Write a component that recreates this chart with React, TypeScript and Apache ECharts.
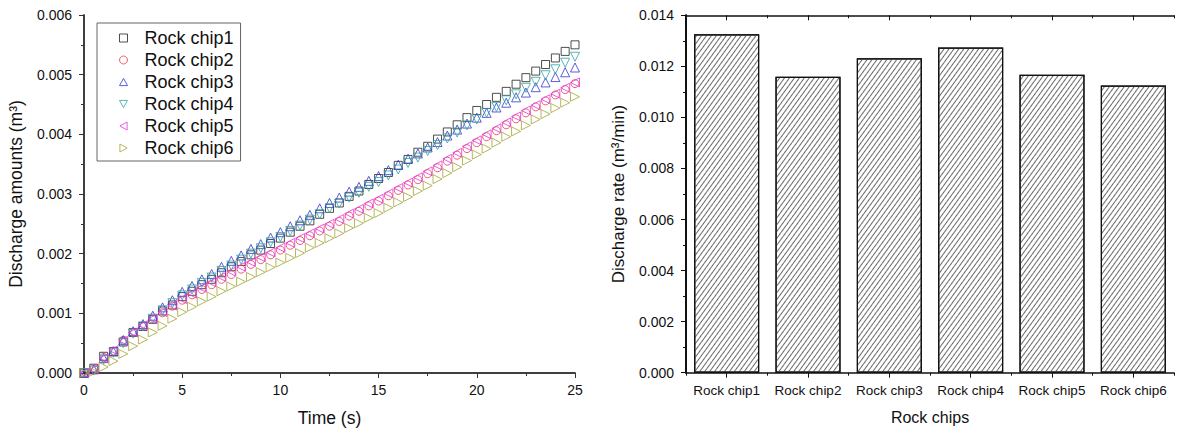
import React, { useEffect, useRef } from "react";
import * as echarts from "echarts";

const times = [
  0, 0.5, 1, 1.5, 2, 2.5, 3, 3.5, 4, 4.5, 5, 5.5, 6, 6.5, 7, 7.5, 8, 8.5, 9, 9.5,
  10, 10.5, 11, 11.5, 12, 12.5, 13, 13.5, 14, 14.5, 15, 15.5, 16, 16.5, 17, 17.5,
  18, 18.5, 19, 19.5, 20, 20.5, 21, 21.5, 22, 22.5, 23, 23.5, 24, 24.5, 25,
];

const chip1 = [
  0.0, 0.00008, 0.00028, 0.00036, 0.00052, 0.00068, 0.00078, 0.0009, 0.00104, 0.00114,
  0.00128, 0.00137, 0.00148, 0.00157, 0.00168, 0.00178, 0.00187, 0.00198, 0.00206, 0.00217,
  0.00226, 0.00236, 0.00246, 0.00255, 0.00266, 0.00276, 0.00285, 0.00296, 0.00305, 0.00316,
  0.00326, 0.00336, 0.00348, 0.00358, 0.0037, 0.0038, 0.00392, 0.00404, 0.00416, 0.00428,
  0.0044, 0.0045, 0.00462, 0.00472, 0.00484, 0.00495, 0.00506, 0.00517, 0.00528, 0.00539,
  0.0055,
];
const chip2 = [
  0.0, 0.00007, 0.00026, 0.00037, 0.00055, 0.00068, 0.00079, 0.0009, 0.00101, 0.00112,
  0.00122, 0.00131, 0.0014, 0.00148, 0.00157, 0.00165, 0.00174, 0.00182, 0.0019, 0.00198,
  0.00206, 0.00214, 0.00222, 0.0023, 0.00238, 0.00246, 0.00254, 0.00263, 0.00271, 0.0028,
  0.00288, 0.00297, 0.00306, 0.00315, 0.00324, 0.00334, 0.00344, 0.00355, 0.00365, 0.00376,
  0.00386, 0.00396, 0.00406, 0.00416, 0.00426, 0.00436, 0.00446, 0.00456, 0.00466, 0.00475,
  0.00485,
];
const chip3 = [
  0.0, 0.00006, 0.00025, 0.00036, 0.00055, 0.0007, 0.00082, 0.00096, 0.0011, 0.00122,
  0.00136, 0.00146, 0.00157, 0.00166, 0.00178, 0.00188, 0.00197, 0.00208, 0.00216, 0.00227,
  0.00236, 0.00246, 0.00256, 0.00265, 0.00276, 0.00285, 0.00294, 0.00304, 0.00312, 0.00322,
  0.0033, 0.0034, 0.00349, 0.00359, 0.00368, 0.00378, 0.00387, 0.00398, 0.00408, 0.00418,
  0.00428, 0.00436, 0.00445, 0.00453, 0.00462, 0.0047, 0.00479, 0.00487, 0.00496, 0.00504,
  0.00512,
];
const chip4 = [
  0.0, 0.00004, 0.00022, 0.00034, 0.0005, 0.00066, 0.00078, 0.00091, 0.00105, 0.00117,
  0.0013, 0.0014, 0.00151, 0.0016, 0.00171, 0.0018, 0.0019, 0.002, 0.00209, 0.00219,
  0.00228, 0.00238, 0.00247, 0.00257, 0.00266, 0.00276, 0.00284, 0.00294, 0.00302, 0.00312,
  0.0032, 0.00331, 0.00341, 0.00352, 0.00361, 0.00372, 0.00382, 0.00393, 0.00403, 0.00415,
  0.00425, 0.00436, 0.00446, 0.00457, 0.00467, 0.00478, 0.00488, 0.00499, 0.00509, 0.0052,
  0.0053,
];
const chip5 = [
  0.0, 0.00006, 0.00025, 0.00038, 0.00054, 0.00068, 0.0008, 0.00091, 0.00102, 0.00113,
  0.00124, 0.00133, 0.00143, 0.00152, 0.00161, 0.0017, 0.00178, 0.00186, 0.00194, 0.00202,
  0.0021, 0.00218, 0.00226, 0.00234, 0.00242, 0.0025, 0.00258, 0.00267, 0.00275, 0.00284,
  0.00292, 0.00301, 0.0031, 0.00319, 0.00328, 0.00338, 0.00348, 0.00359, 0.00369, 0.0038,
  0.0039, 0.004, 0.0041, 0.0042, 0.0043, 0.0044, 0.00449, 0.00459, 0.00468, 0.00478,
  0.00487,
];
const chip6 = [
  0.0, 0.00002, 0.0001, 0.0002, 0.00032, 0.00045, 0.00056, 0.00068, 0.00079, 0.00091,
  0.00102, 0.00111, 0.0012, 0.00128, 0.00137, 0.00145, 0.00153, 0.00161, 0.00169, 0.00177,
  0.00185, 0.00193, 0.00201, 0.0021, 0.00218, 0.00226, 0.00234, 0.00243, 0.00251, 0.0026,
  0.00268, 0.00277, 0.00286, 0.00295, 0.00305, 0.00314, 0.00325, 0.00335, 0.00345, 0.00356,
  0.00366, 0.00376, 0.00386, 0.00396, 0.00405, 0.00415, 0.00425, 0.00434, 0.00444, 0.00453,
  0.00463,
];

const seriesNames = ["Rock chip1", "Rock chip2", "Rock chip3", "Rock chip4", "Rock chip5", "Rock chip6"];
const barCategories = ["Rock chip1", "Rock chip2", "Rock chip3", "Rock chip4", "Rock chip5", "Rock chip6"];
const dischargeRates = [0.01326, 0.01159, 0.01232, 0.01274, 0.01167, 0.01125];

const leftYTicks = [0, 0.006, 0.001];
const leftXTicks = [0, 25, 5];
const rightYTicks = [0, 0.014, 0.002];

const FONT = "Liberation Sans, Arial, sans-serif";

export default function App() {
  const ref = useRef<HTMLDivElement>(null);
  useEffect(() => {
    if (!ref.current) return;
    const chart = echarts.init(ref.current, null, { renderer: "svg" });
    const allData = [chip1, chip2, chip3, chip4, chip5, chip6];
    const colors = ["#222222", "#ec3c46", "#3434d4", "#30a2a2", "#e433e4", "#a4a434"];
    const upTri = "path://M5,0L10,9L0,9Z";
    const downTri = "path://M0,0L10,0L5,9Z";
    const leftTri = "path://M9,0L9,10L0,5Z";
    const rightTri = "path://M0,0L0,10L9,5Z";
    const symbols = ["rect", "circle", upTri, downTri, leftTri, rightTri];
    const sizes = [8, 8, 9, 9, 9, 9];

    const leftLine = { lineStyle: { color: "#333", width: 1.5 } };
    const rightLine = { lineStyle: { color: "#111", width: 1.5 } };

    const scatterSeries = allData.map((arr, i) => ({
      type: "scatter",
      name: seriesNames[i],
      xAxisIndex: 0,
      yAxisIndex: 0,
      symbol: symbols[i],
      symbolSize: sizes[i],
      itemStyle: { color: "rgba(0,0,0,0)", borderColor: colors[i], borderWidth: 1 },
      data: arr.map((v, k) => [times[k], v]),
    }));

    const option: any = {
      animation: false,
      textStyle: { fontFamily: FONT },
      legend: {
        orient: "vertical",
        left: 97,
        top: 23,
        padding: [5, 7, 3, 22],
        itemGap: 2,
        itemWidth: 8,
        itemHeight: 8,
        borderColor: "#666",
        borderWidth: 1,
        backgroundColor: "#fff",
        data: seriesNames.map((n, i) => ({
          name: n,
          icon: symbols[i],
          itemStyle: { color: "rgba(0,0,0,0)", borderColor: colors[i], borderWidth: 1 },
        })),
        textStyle: { fontSize: 18, color: "#111", fontFamily: FONT, lineHeight: 20, padding: [0, 0, 0, 12] },
      },
      grid: [
        { left: 84, top: 15, width: 491, height: 359.5 },
        { left: 686, top: 15.3, width: 488, height: 357.4 },
      ],
      xAxis: [
        {
          type: "value", gridIndex: 0, position: "bottom",
          min: leftXTicks[0], max: leftXTicks[1], interval: leftXTicks[2],
          axisLine: leftLine,
          axisTick: { show: true, inside: false, length: 5, lineStyle: { color: "#333" } },
          minorTick: { show: true, splitNumber: 2, length: 3, lineStyle: { color: "#333" } },
          splitLine: { show: false },
          axisLabel: { fontSize: 14, color: "#111", margin: 10, fontFamily: FONT },
          name: "Time (s)", nameLocation: "middle", nameGap: 36,
          nameTextStyle: { fontSize: 17.5, color: "#111", fontFamily: FONT },
        },
        {
          type: "value", gridIndex: 0, position: "top",
          min: leftXTicks[0], max: leftXTicks[1], interval: leftXTicks[2],
          axisLine: leftLine,
          axisTick: { show: true, inside: true, length: 5, lineStyle: { color: "#333" } },
          minorTick: { show: true, splitNumber: 2, length: 3, lineStyle: { color: "#333" } },
          splitLine: { show: false },
          axisLabel: { show: false },
        },
        {
          type: "category", gridIndex: 1, position: "bottom",
          data: barCategories,
          axisLine: rightLine,
          axisTick: { show: true, alignWithLabel: true, inside: false, length: 5, lineStyle: { color: "#111" } },
          axisLabel: { fontSize: 13.5, color: "#111", margin: 11, fontFamily: FONT, interval: 0 },
          name: "Rock chips", nameLocation: "middle", nameGap: 37,
          nameTextStyle: { fontSize: 16, color: "#111", fontFamily: FONT },
        },
        {
          type: "value", gridIndex: 1, position: "bottom",
          min: 0, max: 6, interval: 1,
          axisLine: { show: false },
          axisTick: { show: true, inside: false, length: 3, lineStyle: { color: "#111" } },
          splitLine: { show: false },
          axisLabel: { show: false },
        },
        {
          type: "category", gridIndex: 1, position: "top",
          data: barCategories,
          axisLine: rightLine,
          axisTick: { show: true, alignWithLabel: true, inside: true, length: 5, lineStyle: { color: "#111" } },
          axisLabel: { show: false },
        },
        {
          type: "value", gridIndex: 1, position: "top",
          min: 0, max: 6, interval: 1,
          axisLine: { show: false },
          axisTick: { show: true, inside: true, length: 3, lineStyle: { color: "#111" } },
          splitLine: { show: false },
          axisLabel: { show: false },
        },
      ],
      yAxis: [
        {
          type: "value", gridIndex: 0, position: "left",
          min: leftYTicks[0], max: leftYTicks[1], interval: leftYTicks[2],
          axisLine: { show: true, ...leftLine },
          axisTick: { show: true, inside: false, length: 5, lineStyle: { color: "#333" } },
          minorTick: { show: true, splitNumber: 2, length: 3, lineStyle: { color: "#333" } },
          splitLine: { show: false },
          axisLabel: { fontSize: 14, color: "#111", margin: 12, fontFamily: FONT, formatter: (v: number) => v.toFixed(3) },
          name: "Discharge amounts (m³)", nameLocation: "middle", nameGap: 59,
          nameTextStyle: { fontSize: 17.5, color: "#111", fontFamily: FONT },
        },
        {
          type: "value", gridIndex: 0, position: "right",
          min: leftYTicks[0], max: leftYTicks[1], interval: leftYTicks[2],
          axisLine: { show: true, ...leftLine },
          axisTick: { show: true, inside: true, length: 5, lineStyle: { color: "#333" } },
          minorTick: { show: true, splitNumber: 2, length: 3, lineStyle: { color: "#333" } },
          splitLine: { show: false },
          axisLabel: { show: false },
        },
        {
          type: "value", gridIndex: 1, position: "left",
          min: rightYTicks[0], max: rightYTicks[1], interval: rightYTicks[2],
          axisLine: { show: true, ...rightLine },
          axisTick: { show: true, inside: false, length: 5, lineStyle: { color: "#111" } },
          minorTick: { show: true, splitNumber: 2, length: 3, lineStyle: { color: "#111" } },
          splitLine: { show: false },
          axisLabel: { fontSize: 14, color: "#111", margin: 12, fontFamily: FONT, formatter: (v: number) => v.toFixed(3) },
          name: "Discharge rate (m³/min)", nameLocation: "middle", nameGap: 59,
          nameTextStyle: { fontSize: 17, color: "#111", fontFamily: FONT },
        },
        {
          type: "value", gridIndex: 1, position: "right",
          min: rightYTicks[0], max: rightYTicks[1], interval: rightYTicks[2],
          axisLine: { show: true, lineStyle: { color: "#111", width: 2 } },
          axisTick: { show: true, inside: true, length: 5, lineStyle: { color: "#111" } },
          minorTick: { show: true, splitNumber: 2, length: 3, lineStyle: { color: "#111" } },
          splitLine: { show: false },
          axisLabel: { show: false },
        },
      ],
      series: [
        ...scatterSeries,
        {
          type: "bar",
          name: "Discharge rate",
          xAxisIndex: 2,
          yAxisIndex: 2,
          barWidth: "80%",
          data: dischargeRates,
          itemStyle: {
            color: "#ffffff",
            borderColor: "#111",
            borderWidth: 1.2,
            decal: {
              symbol: "rect",
              symbolSize: 1,
              dashArrayX: [1, 0],
              dashArrayY: [1, 3],
              rotation: -Math.PI * 0.3,
              color: "#6a6a6a",
            },
          },
        },
      ],
    };
    chart.setOption(option);
    return () => chart.dispose();
  }, []);
  return (
    <div
      ref={ref}
      style={{ position: "fixed", left: 0, top: 0, width: 1181, height: 432, background: "#fff" }}
    />
  );
}
